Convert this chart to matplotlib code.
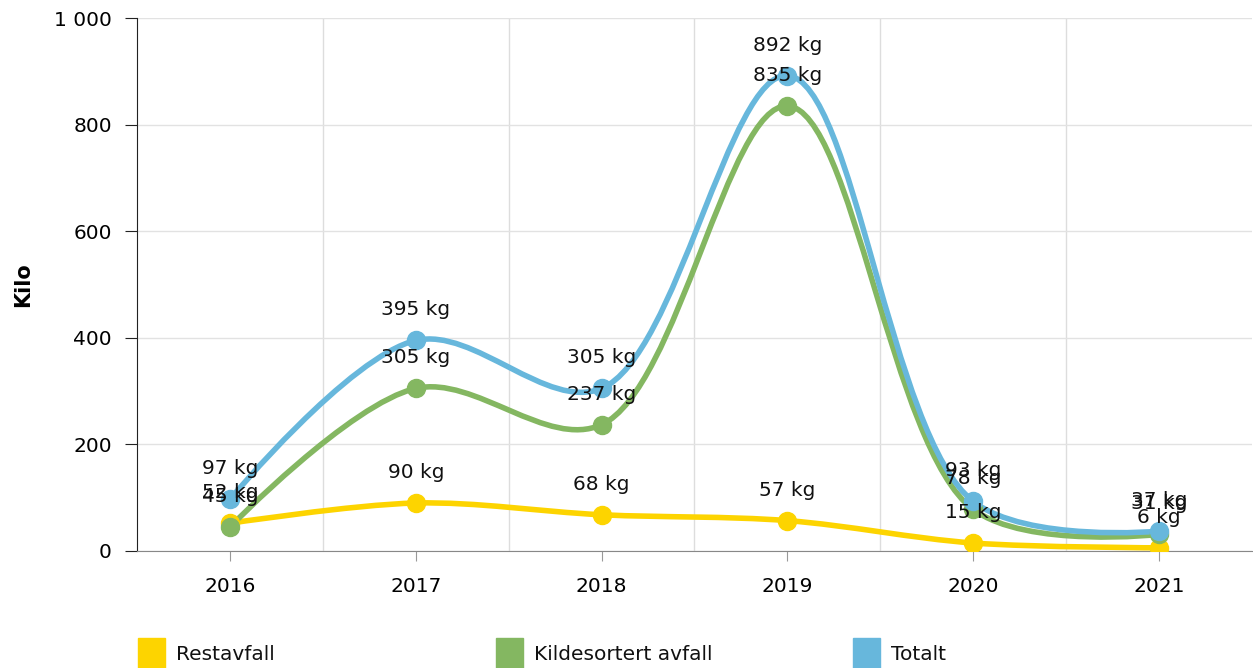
import numpy as np
import matplotlib
matplotlib.use("Agg")
import matplotlib.pyplot as plt
from matplotlib.patches import Rectangle, PathPatch
from matplotlib.path import Path

years = ["2016", "2017", "2018", "2019", "2020", "2021"]
restavfall = [52, 90, 68, 57, 15, 6]
kildesortert = [45, 305, 237, 835, 78, 31]
totalt = [97, 395, 305, 892, 93, 37]
series_names = ["Restavfall", "Kildesortert avfall", "Totalt"]
colors = ["#fdd400", "#84b761", "#67b7dc"]

FS = 14.5
ALPHA = 0.5
W_PX, H_PX = 1115, 533
XMIN, XMAX, YMIN, YMAX = -0.5, 5.5, 0, 1000


def catmull_rom_path(xs, ys, alpha=ALPHA):
    # work in pixel-like space so the centripetal parametrisation matches the screen
    kx = W_PX / (XMAX - XMIN)
    ky = H_PX / (YMAX - YMIN)
    P = np.column_stack([np.asarray(xs, float) * kx, np.asarray(ys, float) * ky])
    n = len(P)
    verts = [tuple(P[0])]
    for i in range(n - 1):
        p0 = P[i - 1] if i > 0 else P[i]
        p1, p2 = P[i], P[i + 1]
        p3 = P[i + 2] if i + 2 < n else P[i + 1]
        l01 = np.linalg.norm(p1 - p0) ** alpha
        l12 = np.linalg.norm(p2 - p1) ** alpha
        l23 = np.linalg.norm(p3 - p2) ** alpha
        c1 = p1.copy()
        c2 = p2.copy()
        if l01 > 1e-9:
            a = 2 * l01 ** 2 + 3 * l01 * l12 + l12 ** 2
            m = 3 * l01 * (l01 + l12)
            c1 = (p1 * a - p0 * l12 ** 2 + p2 * l01 ** 2) / m
        if l23 > 1e-9:
            b = 2 * l23 ** 2 + 3 * l23 * l12 + l12 ** 2
            m = 3 * l23 * (l23 + l12)
            c2 = (p2 * b + p1 * l23 ** 2 - p3 * l12 ** 2) / m
        verts += [tuple(c1), tuple(c2), tuple(p2)]
    V = np.array(verts)
    V[:, 0] /= kx
    V[:, 1] /= ky
    codes = [Path.MOVETO] + [Path.CURVE4] * (len(V) - 1)
    return Path(V, codes)


fig = plt.figure(figsize=(12.53, 6.68), dpi=100)
ax = fig.add_axes([137 / 1253, 1 - 551 / 668, W_PX / 1253, H_PX / 668])
x = np.arange(len(years))

for vals, c in zip([restavfall, kildesortert, totalt], colors):
    ax.add_patch(PathPatch(catmull_rom_path(x, vals), facecolor="none", edgecolor=c, lw=4.0,
                           capstyle="round", joinstyle="round", zorder=3))
    ax.plot(x, vals, "o", color=c, ms=13, zorder=4)
for vals in [restavfall, kildesortert, totalt]:
    for xi, v in zip(x, vals):
        ax.annotate(f"{v} kg", (xi, v), xytext=(0, 22), textcoords="offset points",
                    ha="center", va="center", fontsize=FS, color="#111111", zorder=5)

ax.set_xlim(XMIN, XMAX)
ax.set_ylim(YMIN, YMAX)
ax.set_xticks(x)
ax.set_xticklabels(years, fontsize=FS)
ax.set_yticks([0, 200, 400, 600, 800, 1000])
ax.set_yticklabels(["0", "200", "400", "600", "800", "1 000"], fontsize=FS)
ax.set_xticks(np.arange(0.5, 5.5, 1), minor=True)
ax.grid(False)
ax.xaxis.grid(True, which="minor", color="#dddddd", lw=1)
ax.yaxis.grid(True, which="major", color="#e2e2e2", lw=1)
ax.set_axisbelow(True)
ax.tick_params(axis="x", which="minor", length=0)
ax.tick_params(axis="x", which="major", length=7, color="#999999", pad=11.5)
ax.tick_params(axis="y", length=9, color="#222222", pad=9)
for s in ["top", "right"]:
    ax.spines[s].set_visible(False)
ax.spines["left"].set_color("#222222")
ax.spines["bottom"].set_color("#888888")
ax.set_ylabel("Kilo", fontsize=15, fontweight="bold", labelpad=15)

legend_x = [138, 496, 853]
for lx, c, name in zip(legend_x, colors, series_names):
    fig.patches.append(Rectangle((lx / 1253, 0), 27 / 1253, 30 / 668, transform=fig.transFigure,
                                 color=c, figure=fig))
    fig.text((lx + 38) / 1253, 13 / 668, name, fontsize=FS, va="center", ha="left", color="#111111")

fig.savefig("out.png", dpi=100)
